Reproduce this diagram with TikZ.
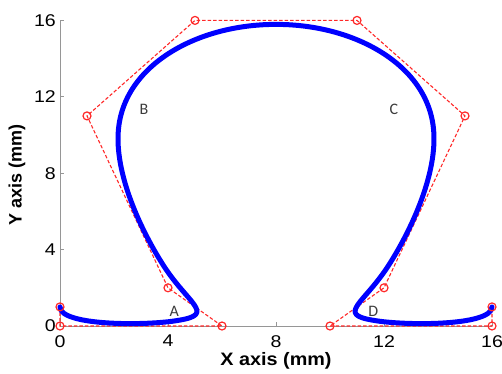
\documentclass[tikz,border=0pt]{standalone}
\usepackage{fontspec}
\setmainfont{Liberation Sans}
\newfontfamily\lblfont{Carlito}
\definecolor{axisgray}{RGB}{150,150,150}
\definecolor{ptred}{RGB}{255,40,40}
\definecolor{curveblue}{RGB}{0,0,255}
\definecolor{lblgray}{RGB}{60,60,60}
\tikzset{
  axisline/.style={draw=axisgray, line width=0.9pt},
  ticklbl/.style={inner sep=0pt, xscale=1.15, font=\fontsize{17}{17}\selectfont},
  axislbl/.style={inner sep=0pt, font=\fontsize{18}{18}\selectfont\bfseries},
  polyline/.style={draw=ptred, line width=1.1pt, dash pattern=on 3.5pt off 2pt},
  ptmark/.style={circle, draw=ptred, line width=1.2pt, minimum size=8pt, inner sep=0pt},
  bspline/.style={draw=curveblue, line width=5pt, line cap=round, line join=round},
  seglbl/.style={inner sep=0pt, text=lblgray, font=\lblfont\fontsize{16}{16}\selectfont}
}
\begin{document}
\begin{tikzpicture}[x=27pt,y=19.1pt]
\useasboundingbox (-60pt,-47pt) rectangle (442pt,326pt);
% axes
\coordinate (o) at (0,0);
\coordinate (xe) at (16,0);
\coordinate (ye) at (0,16);
\draw[axisline] (ye) -- (o) -- (xe);
\foreach \v in {0,4,8,12,16} {
  \draw[axisline] (\v,0) -- ++(0,4pt);
  \draw[axisline] (0,\v) -- ++(4pt,0);
  \node[ticklbl, anchor=north] (xt\v) at ([yshift=-9pt]\v,0) {\v};
  \node[ticklbl, anchor=east] (yt\v) at ([xshift=-4pt]0,\v) {\v};
}
\node[axislbl, xscale=1.1] (xlab) at ([yshift=-34.5pt]8,0) {X axis (mm)};
\node[axislbl, rotate=90] (ylab) at ([xshift=-43pt]0,7.9) {Y axis (mm)};
% control points
\coordinate (p0) at (0,1);
\coordinate (p1) at (0,0);
\coordinate (p2) at (6,0);
\coordinate (p3) at (4,2);
\coordinate (p4) at (1,11);
\coordinate (p5) at (5,16);
\coordinate (p6) at (11,16);
\coordinate (p7) at (15,11);
\coordinate (p8) at (12,2);
\coordinate (p9) at (10,0);
\coordinate (p10) at (16,0);
\coordinate (p11) at (16,1);
\draw[polyline] (p0) -- (p1) -- (p2) -- (p3) -- (p4) -- (p5) -- (p6) -- (p7) -- (p8) -- (p9) -- (p10) -- (p11);
% spline curve
\draw[bspline] (p0) .. controls (0,0) and (3.2,0) .. (4.4,0.3)
  .. controls (5.78,0.62) and (4.75,1.15) .. (3.833,3.167)
  .. controls (3,5) and (2,8) .. (2.167,10.333)
  .. controls (2.333,12.667) and (3.667,14.333) .. (5.333,15.167)
  .. controls (7,16) and (9,16) .. (10.667,15.167)
  .. controls (12.333,14.333) and (13.667,12.667) .. (13.833,10.333)
  .. controls (14,8) and (13,5) .. (12.167,3.167)
  .. controls (11.25,1.15) and (10.22,0.62) .. (11.6,0.3)
  .. controls (12.8,0) and (16,0) .. (p11);
% markers
\foreach \i in {0,...,11} {
  \node[ptmark] (m\i) at (p\i) {};
}
% segment labels
\node[seglbl] (la) at (4.23,0.79) {A};
\node[seglbl] (lb) at (3.11,11.35) {B};
\node[seglbl] (lc) at (12.37,11.35) {C};
\node[seglbl] (ld) at (11.6,0.79) {D};
\end{tikzpicture}
\end{document}
